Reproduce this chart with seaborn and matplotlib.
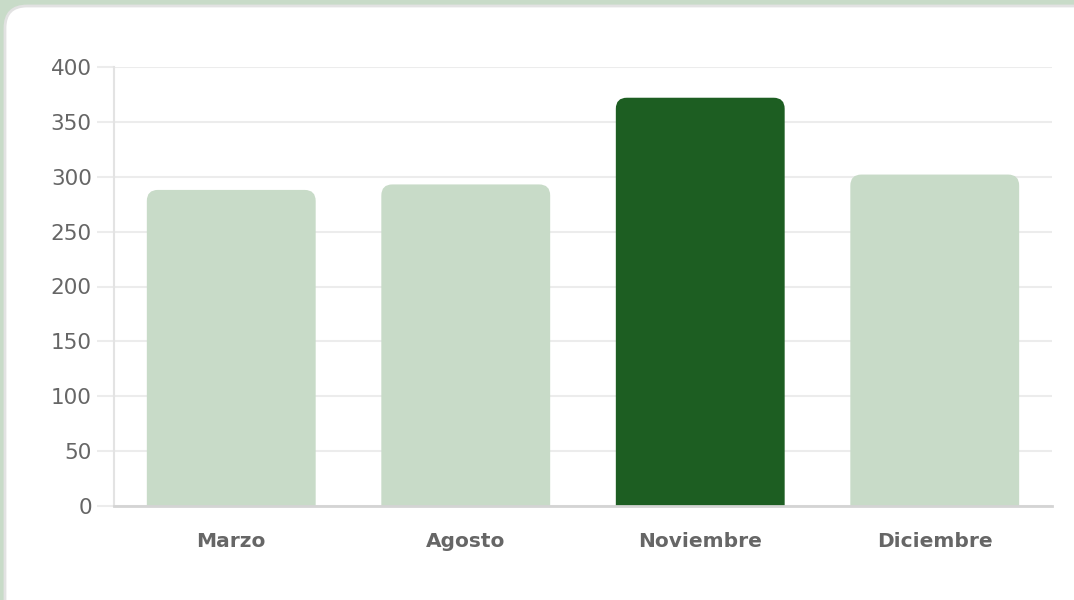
import matplotlib
matplotlib.use("Agg")
import matplotlib.pyplot as plt
import seaborn as sns
import pandas as pd
from matplotlib.patches import FancyBboxPatch

months = ["Marzo", "Agosto", "Noviembre", "Diciembre"]
values = [288, 293, 372, 302]
highlight = "Noviembre"
yticks = [0, 50, 100, 150, 200, 250, 300, 350, 400]

light = "#c8dbc8"
dark = "#1d5e22"

sns.set_theme(style="white")
plt.rcParams["font.family"] = ["DejaVu Sans"]

df = pd.DataFrame({"mes": months, "valor": values})
palette = {m: (dark if m == highlight else light) for m in months}

W, H = 1074, 600
fig = plt.figure(figsize=(W / 100, H / 100), dpi=100)
fig.patch.set_facecolor(light)

card = FancyBboxPatch((5, -50), W + 50, H - 6 + 50,
                      boxstyle="round,pad=0,rounding_size=22",
                      transform=None, facecolor="white",
                      edgecolor="#e2e2e2", linewidth=2, zorder=-5)
fig.patches.append(card)

ax = fig.add_axes([114 / W, (H - 506) / H, (1052 - 114) / W, (506 - 67) / H])
ax.set_facecolor("none")

sns.barplot(data=df, x="mes", y="valor", hue="mes", palette=palette,
            width=0.72, ax=ax, legend=False, saturation=1)

ax.set_ylim(0, 400)
ax.set_xlim(-0.5, 3.5)
ax.set_yticks(yticks)
ax.set_yticklabels([str(t) for t in yticks])
ax.yaxis.grid(True, color="#ececec", linewidth=1.5)
ax.set_axisbelow(True)

# Replace bars with top-rounded versions
fig.canvas.draw()
radius_px = 11
for p in list(ax.patches):
    x0, y0 = p.get_x(), p.get_y()
    w, h = p.get_width(), p.get_height()
    fc = p.get_facecolor()
    (dx0, dy0) = ax.transData.transform((x0, y0))
    (dx1, dy1) = ax.transData.transform((x0 + w, y0 + h))
    rb = FancyBboxPatch((dx0, dy0 - 3 * radius_px), dx1 - dx0, (dy1 - dy0) + 3 * radius_px,
                        boxstyle=f"round,pad=0,rounding_size={radius_px}",
                        transform=None, facecolor=fc, edgecolor="none",
                        zorder=2)
    ax.add_artist(rb)
    rb.set_clip_box(ax.bbox)
    rb.set_clip_on(True)
    p.set_visible(False)

for s in ["top", "right"]:
    ax.spines[s].set_visible(False)
ax.spines["left"].set_color("#e3e3e3")
ax.spines["left"].set_linewidth(1.5)
ax.spines["bottom"].set_color("#d4d4d4")
ax.spines["bottom"].set_linewidth(2)
ax.spines["bottom"].set_zorder(3)

ax.tick_params(axis="y", length=12, width=1.5, color="#ececec",
               labelsize=15.5, labelcolor="#666666", pad=4, left=True)
ax.tick_params(axis="x", length=0, labelsize=14.5, labelcolor="#666666", pad=19)
for lbl in ax.get_xticklabels():
    lbl.set_fontweight("bold")
ax.set_xlabel("")
ax.set_ylabel("")

fig.savefig("out.png", dpi=100, facecolor=fig.get_facecolor())
